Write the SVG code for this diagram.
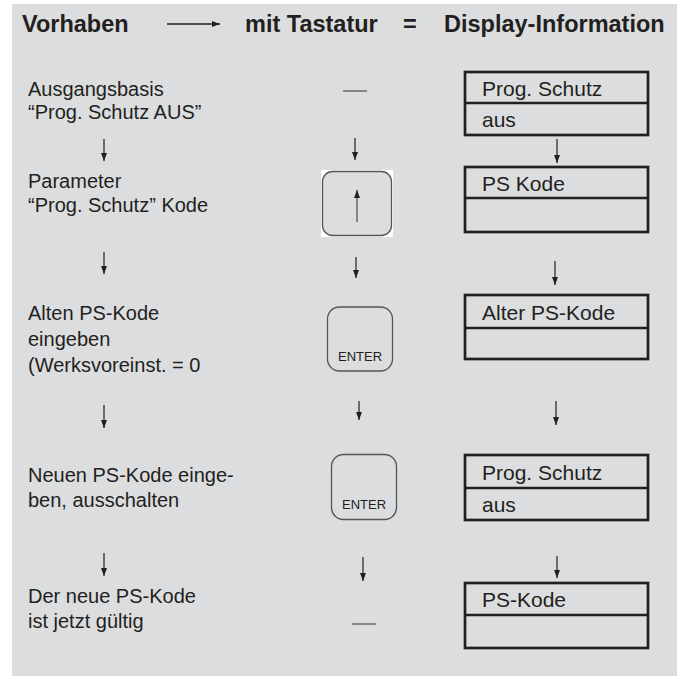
<svg xmlns="http://www.w3.org/2000/svg" width="682" height="676" viewBox="0 0 682 676">
<style>
.hd{font-family:"Liberation Sans",Arial,sans-serif;font-weight:bold;font-size:23.5px;fill:#231f20}
.tx{font-family:"Liberation Sans",Arial,sans-serif;font-size:20px;fill:#231f20}
.dt{font-family:"Liberation Sans",Arial,sans-serif;font-size:21px;fill:#231f20}
.key{font-family:"Liberation Sans",Arial,sans-serif;font-size:13px;fill:#231f20}
.box{fill:none;stroke:#231f20;stroke-width:2.7}
.kb{fill:#dcdddf;stroke:#555;stroke-width:1.3}
.ar{stroke:#231f20;stroke-width:1.2;fill:none}
.dash{stroke:#555;stroke-width:1.3}
</style>
<defs>
<marker id="ah" viewBox="0 0 8 8" refX="8" refY="4" markerWidth="8" markerHeight="8" markerUnits="userSpaceOnUse" orient="auto">
<path d="M0,1 L8,4 L0,7 Z" fill="#231f20"/>
</marker>
</defs>
<rect x="12" y="4" width="665" height="672" fill="#dcdddf"/>
<g id="header">
<text class="hd" x="22" y="32">Vorhaben</text>
<line x1="167" y1="24" x2="220" y2="24" stroke="#231f20" stroke-width="1.3" marker-end="url(#ah)"/>
<text class="hd" x="245" y="32">mit Tastatur</text>
<text class="hd" x="403" y="32">=</text>
<text class="hd" x="444" y="32">Display-Information</text>
</g>
<g id="steps">
<g id="step1">
<text class="tx" x="28" y="96">Ausgangsbasis</text>
<text class="tx" x="28" y="119">“Prog. Schutz AUS”</text>
</g>
<g id="step2">
<text class="tx" x="28" y="188">Parameter</text>
<text class="tx" x="28" y="212">“Prog. Schutz” Kode</text>
</g>
<g id="step3">
<text class="tx" x="28" y="320">Alten PS-Kode</text>
<text class="tx" x="28" y="346">eingeben</text>
<text class="tx" x="28" y="372">(Werksvoreinst. = 0</text>
</g>
<g id="step4">
<text class="tx" x="28" y="482">Neuen PS-Kode einge-</text>
<text class="tx" x="28" y="507">ben, ausschalten</text>
</g>
<g id="step5">
<text class="tx" x="28" y="603">Der neue PS-Kode</text>
<text class="tx" x="28" y="628">ist jetzt gültig</text>
</g>
</g>
<g id="keys">
<g id="key1"><line class="dash" x1="343" y1="91" x2="367" y2="91"/></g>
<g id="key2">
<rect x="321" y="170" width="72" height="67" fill="#fff"/>
<rect class="kb" x="322.5" y="171.5" width="69" height="64" rx="10"/>
<line x1="357" y1="222" x2="357" y2="190" stroke="#555" stroke-width="1.3" marker-end="url(#ah)"/>
</g>
<g id="key3">
<rect class="kb" x="327.5" y="307" width="65" height="64" rx="12"/>
<text class="key" x="360" y="361" text-anchor="middle">ENTER</text>
</g>
<g id="key4">
<rect class="kb" x="331.5" y="454.5" width="65" height="65" rx="12"/>
<text class="key" x="364" y="509" text-anchor="middle">ENTER</text>
</g>
<g id="key5"><line class="dash" x1="352" y1="624" x2="376" y2="624"/></g>
</g>
<g id="displays">
<g id="disp1">
<rect class="box" x="465" y="72" width="183" height="63"/>
<line class="box" x1="465" y1="103" x2="648" y2="103"/>
<text class="dt" x="482" y="96">Prog. Schutz</text>
<text class="dt" x="482" y="127">aus</text>
</g>
<g id="disp2">
<rect class="box" x="465" y="167" width="183" height="65"/>
<line class="box" x1="465" y1="198" x2="648" y2="198"/>
<text class="dt" x="482" y="191">PS Kode</text>
</g>
<g id="disp3">
<rect class="box" x="465" y="295" width="183" height="64"/>
<line class="box" x1="465" y1="328" x2="648" y2="328"/>
<text class="dt" x="482" y="320">Alter PS-Kode</text>
</g>
<g id="disp4">
<rect class="box" x="465" y="455" width="183" height="65"/>
<line class="box" x1="465" y1="488" x2="648" y2="488"/>
<text class="dt" x="482" y="480">Prog. Schutz</text>
<text class="dt" x="482" y="512">aus</text>
</g>
<g id="disp5">
<rect class="box" x="465" y="583" width="183" height="65"/>
<line class="box" x1="465" y1="615" x2="648" y2="615"/>
<text class="dt" x="482" y="607">PS-Kode</text>
</g>
</g>
<g id="connectors">
<line class="ar" x1="104" y1="139" x2="104" y2="161" marker-end="url(#ah)"/>
<line class="ar" x1="104" y1="252" x2="104" y2="274" marker-end="url(#ah)"/>
<line class="ar" x1="104" y1="405" x2="104" y2="428" marker-end="url(#ah)"/>
<line class="ar" x1="104" y1="553" x2="104" y2="576" marker-end="url(#ah)"/>
<line class="ar" x1="355" y1="138" x2="355" y2="160" marker-end="url(#ah)"/>
<line class="ar" x1="356" y1="257" x2="356" y2="278" marker-end="url(#ah)"/>
<line class="ar" x1="359" y1="401" x2="359" y2="420" marker-end="url(#ah)"/>
<line class="ar" x1="363" y1="557" x2="363" y2="581" marker-end="url(#ah)"/>
<line class="ar" x1="557" y1="139" x2="557" y2="163" marker-end="url(#ah)"/>
<line class="ar" x1="555" y1="261" x2="555" y2="285" marker-end="url(#ah)"/>
<line class="ar" x1="556" y1="401" x2="556" y2="425" marker-end="url(#ah)"/>
<line class="ar" x1="557" y1="556" x2="557" y2="578" marker-end="url(#ah)"/>
</g>
</svg>
